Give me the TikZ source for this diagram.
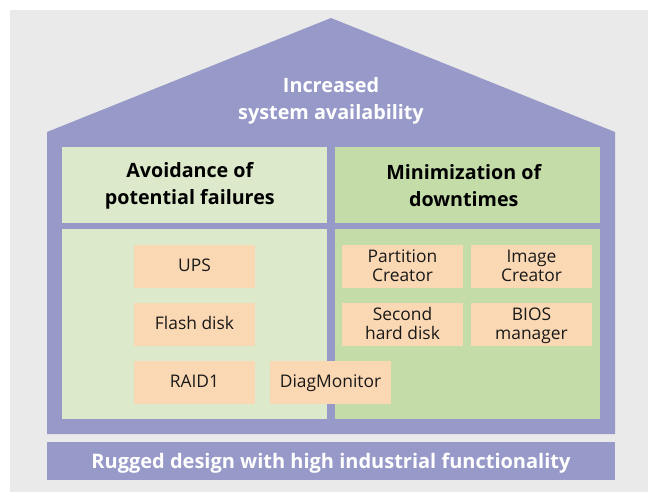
\documentclass[tikz,border=0pt]{standalone}
\usepackage{fontspec}
\setmainfont{Open Sans}
\definecolor{bgG}{HTML}{EAEAEA}
\definecolor{houseC}{HTML}{9799C8}
\definecolor{lightG}{HTML}{DDE9CB}
\definecolor{midG}{HTML}{C3DCA8}
\definecolor{peach}{HTML}{FBD8B4}
\tikzset{
  x=1pt,y=-1pt,
  panel/.style={draw=none,inner sep=0,outer sep=0,anchor=north west,align=center},
  heading/.style={inner sep=0,align=center,font=\fontsize{19.7}{27}\selectfont\bfseries,text=black},
  item/.style={panel,fill=peach,minimum width=121pt,minimum height=43pt,font=\fontsize{17.4}{18.8}\selectfont,text=black!90,text height=14pt,text depth=4pt},
  itemtwo/.style={item,text height=33.4pt},
  whitetext/.style={inner sep=0,align=center,text=white,font=\fontsize{19.8}{27}\selectfont\bfseries}
}
\begin{document}
\begin{tikzpicture}
\useasboundingbox (0,0) rectangle (648,492);
\fill[white] (0,0) rectangle (648,492);
\fill[bgG] (10,10) rectangle (648,492);
\fill[houseC] (47,132) -- (331,18) -- (615,132) -- (615,434) -- (47,434) -- cycle;
\node[panel,fill=houseC,minimum width=568pt,minimum height=38pt] (band) at (47,442) {};
\node[whitetext,font=\fontsize{20}{27}\selectfont\bfseries] (bandtext) at (331,463) {Rugged design with high industrial functionality};
\node[whitetext] (goal) at (331,101) {Increased\\system availability};
\node[panel,fill=lightG,minimum width=265pt,minimum height=76pt] (avoid) at (62,147) {};
\node[panel,fill=midG,minimum width=265pt,minimum height=76pt] (minim) at (335,147) {};
\node[heading] (avoidtext) at (189.8,186) {Avoidance of\\potential failures};
\node[heading] (minimtext) at (463.8,186) {Minimization of\\downtimes};
\node[panel,fill=lightG,minimum width=265pt,minimum height=190pt] (lpanel) at (62,229) {};
\node[panel,fill=midG,minimum width=265pt,minimum height=190pt] (rpanel) at (335,229) {};
\node[item] (ups) at (134,245) {UPS};
\node[item] (flash) at (134,303) {Flash disk};
\node[item] (raid) at (134,361) {RAID1};
\node[item] (diag) at (270,361) {DiagMonitor};
\node[itemtwo] (part) at (342,245) {Partition\\Creator};
\node[itemtwo] (img) at (471,245) {Image\\Creator};
\node[itemtwo] (second) at (342,303) {Second\\hard disk};
\node[itemtwo] (bios) at (471,303) {BIOS\\manager};
\end{tikzpicture}
\end{document}
